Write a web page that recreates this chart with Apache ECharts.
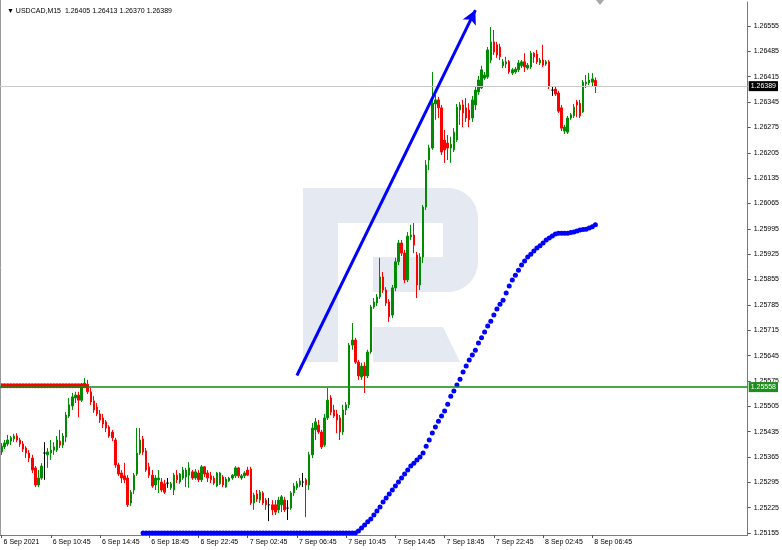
<!DOCTYPE html>
<html><head><meta charset="utf-8">
<script src="https://cdn.jsdelivr.net/npm/echarts@6/dist/echarts.min.js"></script>
<style>html,body{margin:0;padding:0;background:#fff}#c{width:782px;height:550px}</style>
</head><body><div id="c"></div>
<script>
const symbolName = 'USDCAD,M15';
const timeLabels = ['6 Sep 2021','6 Sep 10:45','6 Sep 14:45','6 Sep 18:45','6 Sep 22:45','7 Sep 02:45','7 Sep 06:45','7 Sep 10:45','7 Sep 14:45','7 Sep 18:45','7 Sep 22:45','8 Sep 02:45','8 Sep 06:45'];
const barsPerLabel = 16;
const emptySlots = 49;

const opens = [
1.25379,1.25393,1.25401,1.25409,1.25415,1.25423,1.25412,1.25401,1.25390,1.25376,
1.25362,1.25335,1.25288,1.25307,1.25376,1.25371,1.25376,1.25384,1.25384,1.25409,
1.25398,1.25420,1.25478,1.25506,1.25528,1.25536,1.25522,1.25561,1.25566,1.25545,
1.25520,1.25503,1.25484,1.25473,1.25462,1.25448,1.25434,1.25412,1.25343,1.25321,
1.25313,1.25307,1.25238,1.25274,1.25318,1.25376,1.25415,1.25382,1.25338,1.25315,
1.25288,1.25302,1.25296,1.25291,1.25293,1.25280,1.25274,1.25315,1.25296,1.25307,
1.25310,1.25315,1.25324,1.25307,1.25321,1.25302,1.25338,1.25321,1.25313,1.25307,
1.25285,1.25291,1.25310,1.25282,1.25299,1.25307,1.25313,1.25335,1.25307,1.25313,
1.25329,1.25332,1.25238,1.25263,1.25246,1.25266,1.25246,1.25233,1.25233,1.25233,
1.25219,1.25233,1.25246,1.25224,1.25224,1.25266,1.25280,1.25288,1.25296,1.25302,
1.25288,1.25371,1.25440,1.25453,1.25434,1.25398,1.25473,1.25528,1.25495,1.25484,
1.25473,1.25434,1.25495,1.25509,1.25674,1.25688,1.25627,1.25586,1.25616,1.25589,
1.25655,1.25779,1.25790,1.25807,1.25862,1.25826,1.25793,1.25757,1.25832,1.25904,
1.25956,1.25928,1.25854,1.25973,1.25978,1.25923,1.25840,1.25917,1.26055,1.26185,
1.26218,1.26340,1.26351,1.26329,1.26240,1.26232,1.26218,1.26213,1.26240,1.26323,
1.26337,1.26329,1.26323,1.26301,1.26337,1.26373,1.26384,1.26411,1.26414,1.26461,
1.26511,1.26503,1.26497,1.26445,1.26450,1.26456,1.26425,1.26428,1.26434,1.26445,
1.26456,1.26439,1.26442,1.26480,1.26478,1.26453,1.26461,1.26450,1.26456,1.26378,
1.26381,1.26370,1.26329,1.26265,1.26262,1.26301,1.26307,1.26345,1.26342,1.26318,
1.26395,1.26398,1.26400,1.26405];
const highs = [
1.25404,1.25412,1.25426,1.25423,1.25429,1.25431,1.25418,1.25409,1.25395,1.25384,
1.25371,1.25340,1.25329,1.25348,1.25406,1.25390,1.25412,1.25406,1.25423,1.25440,
1.25431,1.25489,1.25528,1.25542,1.25545,1.25545,1.25569,1.25583,1.25578,1.25556,
1.25533,1.25514,1.25495,1.25484,1.25467,1.25453,1.25440,1.25418,1.25349,1.25329,
1.25349,1.25315,1.25274,1.25321,1.25445,1.25445,1.25423,1.25390,1.25349,1.25329,
1.25315,1.25329,1.25307,1.25302,1.25307,1.25296,1.25321,1.25329,1.25321,1.25338,
1.25335,1.25351,1.25329,1.25332,1.25329,1.25343,1.25340,1.25329,1.25324,1.25313,
1.25324,1.25324,1.25315,1.25310,1.25310,1.25318,1.25340,1.25338,1.25318,1.25326,
1.25338,1.25338,1.25266,1.25274,1.25274,1.25271,1.25252,1.25252,1.25246,1.25246,
1.25255,1.25260,1.25255,1.25246,1.25271,1.25293,1.25299,1.25307,1.25321,1.25307,
1.25379,1.25459,1.25473,1.25467,1.25440,1.25484,1.25556,1.25536,1.25509,1.25495,
1.25481,1.25509,1.25517,1.25680,1.25735,1.25694,1.25633,1.25625,1.25627,1.25661,
1.25785,1.25804,1.25815,1.25915,1.25876,1.25834,1.25801,1.25840,1.25915,1.25964,
1.25964,1.25937,1.25986,1.26006,1.26011,1.25931,1.25928,1.26061,1.26185,1.26227,
1.26428,1.26365,1.26359,1.26337,1.26268,1.26254,1.26249,1.26273,1.26340,1.26345,
1.26351,1.26356,1.26342,1.26362,1.26389,1.26417,1.26445,1.26428,1.26497,1.26552,
1.26544,1.26511,1.26506,1.26464,1.26470,1.26461,1.26439,1.26442,1.26461,1.26461,
1.26480,1.26453,1.26486,1.26483,1.26489,1.26467,1.26503,1.26461,1.26461,1.26389,
1.26389,1.26376,1.26337,1.26282,1.26307,1.26315,1.26340,1.26351,1.26351,1.26406,
1.26420,1.26425,1.26425,1.26413];
const lows = [
1.25371,1.25387,1.25395,1.25398,1.25406,1.25406,1.25393,1.25379,1.25362,1.25351,
1.25321,1.25282,1.25282,1.25302,1.25302,1.25335,1.25357,1.25371,1.25379,1.25390,
1.25390,1.25406,1.25473,1.25495,1.25514,1.25475,1.25517,1.25556,1.25539,1.25509,
1.25487,1.25478,1.25459,1.25445,1.25434,1.25418,1.25409,1.25335,1.25313,1.25293,
1.25293,1.25227,1.25230,1.25263,1.25313,1.25371,1.25371,1.25324,1.25307,1.25280,
1.25274,1.25266,1.25268,1.25263,1.25280,1.25274,1.25260,1.25293,1.25291,1.25302,
1.25282,1.25280,1.25302,1.25302,1.25296,1.25296,1.25310,1.25296,1.25293,1.25288,
1.25282,1.25288,1.25282,1.25280,1.25296,1.25302,1.25307,1.25307,1.25302,1.25307,
1.25313,1.25233,1.25219,1.25241,1.25238,1.25233,1.25219,1.25188,1.25205,1.25205,
1.25210,1.25213,1.25213,1.25191,1.25219,1.25257,1.25274,1.25282,1.25282,1.25199,
1.25274,1.25362,1.25412,1.25429,1.25387,1.25393,1.25467,1.25481,1.25473,1.25431,
1.25412,1.25426,1.25481,1.25500,1.25661,1.25622,1.25578,1.25578,1.25542,1.25583,
1.25650,1.25774,1.25782,1.25801,1.25818,1.25782,1.25738,1.25749,1.25823,1.25895,
1.25920,1.25845,1.25848,1.25964,1.25928,1.25804,1.25826,1.25901,1.26047,1.26157,
1.26213,1.26296,1.26301,1.26199,1.26177,1.26185,1.26177,1.26207,1.26235,1.26282,
1.26276,1.26290,1.26276,1.26290,1.26323,1.26365,1.26381,1.26406,1.26409,1.26453,
1.26475,1.26467,1.26461,1.26439,1.26439,1.26423,1.26420,1.26423,1.26428,1.26439,
1.26428,1.26434,1.26436,1.26453,1.26450,1.26447,1.26442,1.26445,1.26381,1.26362,
1.26362,1.26315,1.26265,1.26257,1.26257,1.26296,1.26301,1.26304,1.26301,1.26315,
1.26384,1.26392,1.26387,1.26370];
const closes = [
1.25395,1.25404,1.25412,1.25418,1.25423,1.25412,1.25401,1.25387,1.25376,1.25362,
1.25329,1.25288,1.25307,1.25340,1.25376,1.25379,1.25384,1.25393,1.25412,1.25398,
1.25423,1.25481,1.25509,1.25531,1.25536,1.25522,1.25561,1.25569,1.25545,1.25517,
1.25495,1.25484,1.25467,1.25456,1.25445,1.25423,1.25418,1.25343,1.25318,1.25307,
1.25302,1.25233,1.25268,1.25315,1.25376,1.25412,1.25379,1.25329,1.25315,1.25285,
1.25307,1.25307,1.25274,1.25268,1.25293,1.25291,1.25315,1.25302,1.25318,1.25329,
1.25329,1.25335,1.25307,1.25324,1.25302,1.25338,1.25318,1.25307,1.25302,1.25293,
1.25321,1.25321,1.25288,1.25304,1.25307,1.25315,1.25335,1.25313,1.25313,1.25321,
1.25315,1.25238,1.25260,1.25249,1.25268,1.25238,1.25233,1.25233,1.25219,1.25213,
1.25246,1.25255,1.25219,1.25224,1.25266,1.25285,1.25291,1.25299,1.25296,1.25288,
1.25371,1.25445,1.25462,1.25434,1.25393,1.25473,1.25522,1.25489,1.25478,1.25467,
1.25434,1.25495,1.25509,1.25674,1.25688,1.25627,1.25589,1.25616,1.25589,1.25655,
1.25779,1.25793,1.25807,1.25862,1.25826,1.25790,1.25752,1.25832,1.25904,1.25956,
1.25928,1.25854,1.25975,1.25978,1.25950,1.25840,1.25917,1.26055,1.26171,1.26218,
1.26342,1.26351,1.26329,1.26207,1.26213,1.26218,1.26229,1.26262,1.26331,1.26337,
1.26315,1.26301,1.26296,1.26351,1.26378,1.26406,1.26434,1.26420,1.26489,1.26511,
1.26483,1.26475,1.26470,1.26456,1.26456,1.26428,1.26434,1.26436,1.26453,1.26456,
1.26442,1.26447,1.26480,1.26470,1.26456,1.26461,1.26447,1.26456,1.26387,1.26378,
1.26367,1.26320,1.26273,1.26276,1.26301,1.26310,1.26331,1.26337,1.26307,1.26400,
1.26400,1.26406,1.26409,1.26389];

const redDots = [
1.25562,1.25562,1.25562,1.25562,1.25562,1.25562,1.25562,1.25562,1.25562,1.25562,
1.25562,1.25562,1.25562,1.25562,1.25562,1.25562,1.25562,1.25562,1.25562,1.25562,
1.25562,1.25562,1.25562,1.25562,1.25562,1.25562,1.25562,1.25562];
const blueStart = 46;
const blueDots = [
1.25155,1.25155,1.25155,1.25155,1.25155,1.25155,1.25155,1.25155,1.25155,1.25155,
1.25155,1.25155,1.25155,1.25155,1.25155,1.25155,1.25155,1.25155,1.25155,1.25155,
1.25155,1.25155,1.25155,1.25155,1.25155,1.25155,1.25155,1.25155,1.25155,1.25155,
1.25155,1.25155,1.25155,1.25155,1.25155,1.25155,1.25155,1.25155,1.25155,1.25155,
1.25155,1.25155,1.25155,1.25155,1.25155,1.25155,1.25155,1.25155,1.25155,1.25155,
1.25155,1.25155,1.25155,1.25155,1.25155,1.25155,1.25155,1.25155,1.25155,1.25155,
1.25155,1.25155,1.25155,1.25155,1.25155,1.25155,1.25155,1.25155,1.25155,
1.25155,1.25161,1.25169,1.25177,1.25186,1.25194,1.25205,1.25216,1.25227,1.25241,
1.25252,1.25263,1.25274,1.25285,1.25296,1.25307,1.25318,1.25329,1.25340,1.25348,
1.25357,1.25365,1.25376,1.25395,1.25412,1.25431,1.25448,1.25464,1.25478,1.25492,
1.25511,1.25533,1.25547,1.25564,1.25580,1.25600,1.25616,1.25633,1.25647,1.25660,
1.25680,1.25694,1.25710,1.25727,1.25740,1.25757,1.25774,1.25787,1.25798,1.25818,
1.25837,1.25854,1.25867,1.25881,1.25895,1.25906,1.25917,1.25925,1.25934,1.25942,
1.25948,1.25956,1.25964,1.25970,1.25975,1.25981,1.25983,1.25983,1.25983,1.25983,
1.25985,1.25986,1.25989,1.25992,1.25993,1.25994,1.25997,1.26001,1.26006];

const priceTicks = [1.25155,1.25225,1.25295,1.25365,1.25435,1.25505,1.25575,1.25645,1.25715,1.25785,1.25855,1.25925,1.25995,1.26065,1.26135,1.26205,1.26275,1.26345,1.26415,1.26485,1.26555];
const priceMin = 1.251497, priceMax = 1.266213;
const supportLevel = 1.25558;
const trendStart = [96, 1.25590];
const trendEnd = [154, 1.26599];

const FONT = "'Liberation Sans', Arial, sans-serif";
const FS = 7;
const n = opens.length;
const last = n - 1;
const categories = Array.from({length: n + emptySlots}, (_, i) => String(i));
const candleData = opens.map((o, i) => [o, closes[i], lows[i], highs[i]]);
const isLabelIdx = (idx) => idx % barsPerLabel === 0 && idx / barsPerLabel < timeLabels.length;

const chart = echarts.init(document.getElementById('c'), null, {renderer: 'canvas'});
const WM = '#e5eaf2';
chart.setOption({
  animation: false,
  backgroundColor: '#ffffff',
  title: {
    text: '\u25BC ' + symbolName + '  ' + [opens[last], highs[last], lows[last], closes[last]].map(v => v.toFixed(5)).join(' '),
    left: 2, top: 3,
    textStyle: {fontSize: FS, fontWeight: 'normal', color: '#000', fontFamily: FONT}
  },
  grid: {left: 0, right: 33, top: 2, bottom: 15, containLabel: false},
  graphic: [
    {type: 'rect', z: -10, shape: {x: 303, y: 188, width: 175, height: 104, r: [0, 30, 30, 0]}, style: {fill: WM}},
    {type: 'rect', z: -10, shape: {x: 303, y: 188, width: 35, height: 174}, style: {fill: WM}},
    {type: 'rect', z: -9, shape: {x: 338, y: 223, width: 105, height: 34}, style: {fill: '#fff'}},
    {type: 'rect', z: -9, shape: {x: 338, y: 257, width: 35, height: 35}, style: {fill: '#fff'}},
    {type: 'polygon', z: -10, shape: {points: [[373, 327], [443, 327], [460, 362], [373, 362]]}, style: {fill: WM}},
    {type: 'line', z: 5, shape: {x1: 0.5, y1: 0, x2: 0.5, y2: 535}, style: {stroke: '#9a9a9a', lineWidth: 1}},
    {type: 'polygon', z: 5, shape: {points: [[596, 0], [604, 0], [600, 5]]}, style: {fill: '#a8a8a8'}}
  ],
  xAxis: {
    type: 'category', data: categories, boundaryGap: true,
    axisLine: {show: true, lineStyle: {color: '#7a7a7a', width: 1}},
    axisTick: {show: true, alignWithLabel: true, length: 3, interval: (idx) => isLabelIdx(idx), lineStyle: {color: '#555'}},
    axisLabel: {
      show: true, interval: (idx) => isLabelIdx(idx),
      formatter: (v, idx) => timeLabels[idx / barsPerLabel] || '',
      align: 'left', margin: 4, padding: [0, 0, 0, 2],
      fontSize: FS, color: '#000', fontFamily: FONT
    },
    splitLine: {show: false}
  },
  yAxis: {
    type: 'value', position: 'right', min: priceMin, max: priceMax, scale: true,
    axisLine: {show: true, lineStyle: {color: '#7a7a7a', width: 1}},
    axisTick: {show: true, length: 3, customValues: priceTicks, lineStyle: {color: '#555'}},
    axisLabel: {show: true, customValues: priceTicks, formatter: v => v.toFixed(5), margin: 6, fontSize: FS, color: '#000', fontFamily: FONT},
    splitLine: {show: false}
  },
  series: [
    {
      type: 'candlestick', data: candleData, barWidth: 2, z: 3,
      itemStyle: {color: '#008c00', color0: '#ff0000', borderColor: '#008c00', borderColor0: '#ff0000', borderColorDoji: '#000', borderWidth: 1},
      markLine: {
        silent: true, symbol: ['none', 'none'], animation: false, precision: 5,
        data: [
          {yAxis: closes[last], lineStyle: {color: '#c8c8c8', width: 1, type: 'solid'},
           label: {show: true, position: 'end', distance: 1, formatter: p => Number(p.value).toFixed(5), color: '#fff', backgroundColor: '#000', padding: [2, 2, 1, 2], fontSize: FS, fontFamily: FONT}},
          {yAxis: supportLevel, lineStyle: {color: '#118a11', width: 1.5, type: 'solid'},
           label: {show: true, position: 'end', distance: 1, formatter: p => Number(p.value).toFixed(5), color: '#fff', backgroundColor: '#1a8f1a', padding: [2, 2, 1, 2], fontSize: FS, fontFamily: FONT}}
        ]
      }
    },
    {
      type: 'scatter', data: redDots.map((v, i) => [i, v]), symbol: 'circle', symbolSize: 5, z: 4,
      itemStyle: {color: '#ff0000', opacity: 1},
      markLine: {
        silent: true, animation: false, symbol: ['none', 'arrow'], symbolSize: [11, 14], precision: 5,
        lineStyle: {color: '#0000ff', width: 3, type: 'solid'},
        label: {show: false},
        data: [[{coord: trendStart}, {coord: trendEnd}]]
      }
    },
    {
      type: 'scatter', data: blueDots.map((v, k) => [blueStart + k, v]), symbol: 'circle', symbolSize: 5, z: 4,
      itemStyle: {color: '#0000ff', opacity: 1}
    }
  ]
});
</script></body></html>
